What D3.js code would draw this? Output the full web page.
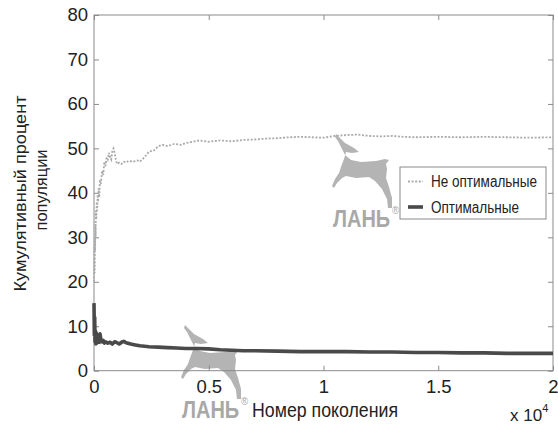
<!DOCTYPE html>
<html>
<head>
<meta charset="utf-8">
<script src="https://cdn.jsdelivr.net/npm/d3@7"></script>
<style>
  html, body { margin: 0; padding: 0; background: #fff; }
  svg { display: block; }
</style>
</head>
<body>
<svg id="chart" width="558" height="429"></svg>
<script>
// Generation number (x) and cumulative population percentage (y)
const nonOptGen = [0, 10, 20, 30, 40, 50, 60, 70, 80, 100, 120, 140, 160, 180, 200, 230, 260, 300, 350, 400,
  450, 500, 550, 600, 650, 700, 750, 800, 850, 900, 950, 1000, 1100, 1200, 1300, 1400, 1500, 1700, 1900, 2000,
  2200, 2400, 2600, 2800, 3000, 3200, 3500, 3800, 4000, 4300, 4600, 5000, 5500, 6000, 6500, 7000, 7500, 8000,
  8500, 9000, 9500, 10000, 10500, 11000, 11500, 12000, 12500, 13000, 13500, 14000, 15000, 16000, 17000, 18000,
  19000, 20000];
const nonOptVal = [20, 24, 28, 22, 30, 27, 33, 30, 36, 34, 38, 36, 40, 38, 41, 39, 43, 42, 45, 44,
  47, 46, 48, 47.5, 49, 48, 47.5, 49.5, 50, 49, 47.5, 46.5, 46.8, 46.5, 47, 46.8, 47.2, 47, 47.3, 47,
  48, 49.3, 49.5, 50.5, 50.8, 50.5, 51, 50.8, 51.2, 51.5, 51.8, 51.5, 51.8, 51.6, 51.9, 52, 52.2, 52.3,
  52.5, 52.6, 52.5, 52.4, 52.8, 53, 53.1, 52.8, 52.7, 52.8, 52.6, 52.5, 52.6, 52.5, 52.6, 52.5,
  52.4, 52.5];

const optGen = [0, 15, 30, 45, 60, 80, 100, 120, 150, 180, 200, 230, 260, 300, 350, 400, 450, 500, 600, 700,
  800, 900, 1000, 1100, 1200, 1300, 1400, 1600, 1800, 2000, 2400, 2800, 3200, 3600, 4000, 4500, 5000, 5500,
  6000, 6500, 7000, 8000, 9000, 10000, 11000, 12000, 13000, 14000, 15000, 16000, 17000, 18000, 19000, 20000];
const optVal = [15.2, 8, 12, 6.5, 9, 6, 8.5, 6.2, 8, 6.5, 7.5, 6.4, 8.3, 7, 6.5, 6.8, 6.2, 6.5, 6.2, 6.4,
  6.0, 6.5, 6.3, 6.0, 6.4, 6.6, 6.3, 6.0, 5.8, 5.6, 5.4, 5.3, 5.2, 5.1, 5.0, 5.0, 4.9, 4.7,
  4.6, 4.5, 4.5, 4.4, 4.3, 4.3, 4.3, 4.2, 4.2, 4.1, 4.1, 4.0, 4.0, 3.9, 3.9, 3.9];

const xTicks = [0, 5000, 10000, 15000, 20000];
const xTickLabels = ["0", "0.5", "1", "1.5", "2"];
const yTicks = [0, 10, 20, 30, 40, 50, 60, 70, 80];

const seriesNames = ["Не оптимальные", "Оптимальные"];
const yTitle = ["Кумулятивный процент", "популяции"];
const xTitle = "Номер поколения";

const svg = d3.select("#chart");
const plotLeft = 94, plotRight = 553, plotTop = 15, plotBottom = 370.7;

const x = d3.scaleLinear().domain([0, 20000]).range([plotLeft, plotRight]);
const y = d3.scaleLinear().domain([0, 80]).range([plotBottom, plotTop]);

const tickFont = "'Liberation Sans', Arial, sans-serif";
const narrowFont = "'Liberation Sans Narrow', 'Liberation Sans', Arial, sans-serif";

// Publisher watermark: deer silhouette plus wordmark
const deer = [[185,325],[190,330],[194,334],[203,339],[208,343],[201,344],[195,343],[193,350],[190,358],
  [188,364],[184,370],[181,377],[183,379],[186,374],[191,369],[195,367],[205,369],[218,368],[224,372],
  [231,380],[236,390],[237,399],[241,399],[241,389],[238,378],[235,369],[236,360],[235,355],[238,351],
  [234,350],[225,352],[210,353],[200,351],[194,346],[190,338],[187,332],[184,328]];
const marks = [[0, 0], [151, -191]];
marks.forEach(([dx, dy]) => {
  const g = svg.append("g").attr("transform", `translate(${dx},${dy})`);
  g.append("path").attr("d", d3.line().curve(d3.curveLinearClosed)(deer))
    .attr("fill", "#b4b4b4");
  const wm = g.append("text").attr("x", 182).attr("y", 418)
    .attr("font-family", narrowFont).attr("font-weight", "bold").attr("font-size", 23)
    .attr("textLength", 66).attr("lengthAdjust", "spacingAndGlyphs").attr("fill", "#a8a8a8");
  wm.append("tspan").text("ЛАНЬ");
  wm.append("tspan").attr("dy", -13).attr("dx", 2).attr("font-size", 11)
    .attr("font-weight", "normal").text("®");
});

// Frame
svg.append("rect").attr("x", plotLeft).attr("y", plotTop)
  .attr("width", plotRight - plotLeft).attr("height", plotBottom - plotTop)
  .attr("fill", "none").attr("stroke", "#8a8a8a").attr("stroke-width", 1);

// Axes with inward ticks on all four sides
function styleAxis(g) {
  g.select(".domain").remove();
  g.selectAll(".tick line").attr("stroke", "#8a8a8a");
  g.selectAll(".tick text").attr("fill", "#222").attr("font-family", tickFont).attr("font-size", 18.5);
}
svg.append("g").attr("transform", `translate(${plotLeft},0)`)
  .call(d3.axisLeft(y).tickValues(yTicks).tickSizeInner(-5).tickSizeOuter(0).tickPadding(6))
  .call(styleAxis);
svg.append("g").attr("transform", `translate(${plotRight},0)`)
  .call(d3.axisRight(y).tickValues(yTicks).tickSizeInner(-5).tickSizeOuter(0).tickFormat(""))
  .call(styleAxis);
svg.append("g").attr("transform", `translate(0,${plotBottom})`)
  .call(d3.axisBottom(x).tickValues(xTicks).tickSizeInner(-5).tickSizeOuter(0).tickPadding(9)
    .tickFormat((d, i) => xTickLabels[i]))
  .call(styleAxis);
svg.append("g").attr("transform", `translate(0,${plotTop})`)
  .call(d3.axisTop(x).tickValues(xTicks).tickSizeInner(-5).tickSizeOuter(0).tickFormat(""))
  .call(styleAxis);

// Series
const line = d3.line().x(d => x(d[0])).y(d => y(d[1]));
svg.append("path").datum(nonOptGen.map((g, i) => [g, nonOptVal[i]]))
  .attr("d", line).attr("fill", "none").attr("stroke", "#ababab")
  .attr("stroke-width", 1.8).attr("stroke-dasharray", "2,1.6");
svg.append("path").datum(optGen.map((g, i) => [g, optVal[i]]))
  .attr("d", line).attr("fill", "none").attr("stroke", "#4a4a4a")
  .attr("stroke-width", 3.6).attr("stroke-linejoin", "round");

// Legend
const lg = svg.append("g");
lg.append("rect").attr("x", 400).attr("y", 167).attr("width", 146).attr("height", 52)
  .attr("fill", "#fff").attr("stroke", "#8a8a8a").attr("stroke-width", 1);
lg.append("line").attr("x1", 408).attr("x2", 423).attr("y1", 181.5).attr("y2", 181.5)
  .attr("stroke", "#ababab").attr("stroke-width", 1.8).attr("stroke-dasharray", "2,1.6");
lg.append("line").attr("x1", 408).attr("x2", 423).attr("y1", 207).attr("y2", 207)
  .attr("stroke", "#4a4a4a").attr("stroke-width", 3.6);
[[seriesNames[0], 187, 106], [seriesNames[1], 212.5, 88]].forEach(([t, by, len]) => {
  lg.append("text").attr("x", 431).attr("y", by).text(t)
    .attr("font-family", narrowFont).attr("font-size", 16).attr("fill", "#222")
    .attr("textLength", len).attr("lengthAdjust", "spacingAndGlyphs");
});

// Axis titles
const yt = svg.append("g").attr("transform", "rotate(-90)");
yt.append("text").attr("x", -193.5).attr("y", 26).attr("text-anchor", "middle").text(yTitle[0])
  .attr("font-family", narrowFont).attr("font-size", 16.5).attr("fill", "#222")
  .attr("textLength", 196).attr("lengthAdjust", "spacingAndGlyphs");
yt.append("text").attr("x", -190).attr("y", 47).attr("text-anchor", "middle").text(yTitle[1])
  .attr("font-family", narrowFont).attr("font-size", 16.5).attr("fill", "#222")
  .attr("textLength", 81).attr("lengthAdjust", "spacingAndGlyphs");

svg.append("text").attr("x", 252).attr("y", 416.5).text(xTitle)
  .attr("font-family", narrowFont).attr("font-size", 20).attr("fill", "#222")
  .attr("textLength", 146).attr("lengthAdjust", "spacingAndGlyphs");

// Exponent multiplier for the x axis
const ex = svg.append("text").attr("x", 510).attr("y", 421)
  .attr("font-family", tickFont).attr("font-size", 17).attr("fill", "#222");
ex.append("tspan").text("x 10");
ex.append("tspan").attr("dy", -9).attr("font-size", 11).text("4");
</script>
</body>
</html>
